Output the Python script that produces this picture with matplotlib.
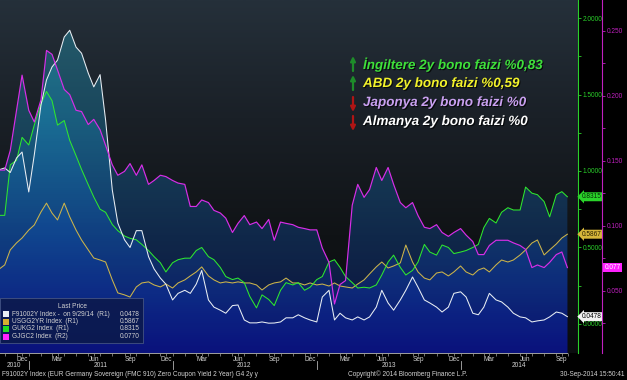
import numpy as np
import pandas as pd
import matplotlib
matplotlib.use('Agg')
import matplotlib.pyplot as plt
import matplotlib.dates as mdates
import matplotlib.patheffects as pe
from matplotlib.colors import LinearSegmentedColormap
from matplotlib.patches import Rectangle
from matplotlib.transforms import blended_transform_factory
from matplotlib.ticker import FixedLocator, FormatStrFormatter

plt.rcParams['font.family'] = ['Liberation Sans', 'DejaVu Sans']

# semi-monthly closes (1st / 15th), plus the last print on 9/29/14
dates = list(pd.date_range('2010-10-15', '2014-09-15', freq='SMS')) + [pd.Timestamp('2014-09-29')]

# F91002Y Index - German 2y (R1)
de2y = [1.006, 1.02, 0.99, 1.085, 1.124,
        0.863, 1.105, 1.431, 1.595, 1.68, 1.725, 1.876, 1.92, 1.81, 1.77, 1.64, 1.55,
        1.63, 1.333, 0.876, 0.66, 0.55, 0.50, 0.61, 0.61, 0.44, 0.36, 0.30, 0.26,
        0.157, 0.20, 0.22, 0.20, 0.26, 0.35, 0.157, 0.11, 0.09, 0.07, 0.12, 0.124,
        0.026, 0.007, 0.007, 0.013, 0.005, 0.006, 0.013, 0.04, 0.04, 0.06, 0.04, 0.026,
        0.013, 0.176, 0.22, 0.026, 0.07, 0.04, 0.026, 0.046, 0.026, 0.046, 0.11, 0.22,
        0.137, 0.09, 0.157, 0.22, 0.307, 0.24, 0.157, 0.137, 0.11, 0.078, 0.11, 0.20,
        0.21, 0.176, 0.07, 0.06, 0.11, 0.20, 0.157, 0.144, 0.11, 0.07, 0.046, 0.04,
        0.013, 0.02, 0.026, 0.046, 0.078, 0.07, 0.0478]
# USGG2YR Index - US 2y (R1)
us2y = [0.353, 0.386, 0.484, 0.53, 0.562,
        0.614, 0.647, 0.732, 0.79, 0.725, 0.68, 0.79, 0.70, 0.614, 0.549, 0.484, 0.431,
        0.418, 0.405, 0.288, 0.203, 0.19, 0.176, 0.242, 0.268, 0.275, 0.255, 0.242, 0.261,
        0.235, 0.268, 0.288, 0.314, 0.34, 0.373, 0.314, 0.288, 0.268, 0.275, 0.268, 0.275,
        0.268, 0.268, 0.255, 0.222, 0.255, 0.268, 0.275, 0.30, 0.268, 0.268, 0.255, 0.268,
        0.255, 0.261, 0.248, 0.268, 0.248, 0.242, 0.235, 0.261, 0.288, 0.327, 0.373, 0.405,
        0.366, 0.379, 0.399, 0.516, 0.405, 0.34, 0.30, 0.288, 0.333, 0.34, 0.314, 0.34,
        0.379, 0.34, 0.32, 0.353, 0.366, 0.34, 0.386, 0.418, 0.405, 0.418, 0.451, 0.484,
        0.529, 0.549, 0.451, 0.484, 0.523, 0.562, 0.5867]
# GUKG2 Index - UK 2y (R1)
uk2y = [0.71, 0.71, 1.04, 1.07, 1.22,
        1.17, 1.30, 1.44, 1.52, 1.46, 1.30, 1.33, 1.20, 1.10, 1.01, 0.91, 0.83,
        0.75, 0.73, 0.65, 0.61, 0.575, 0.56, 0.55, 0.52, 0.48, 0.44, 0.40, 0.34,
        0.40, 0.42, 0.43, 0.43, 0.48, 0.50, 0.44, 0.42, 0.37, 0.31, 0.29, 0.30,
        0.27, 0.18, 0.105, 0.19, 0.16, 0.12, 0.22, 0.27, 0.255, 0.27, 0.22, 0.24,
        0.29, 0.31, 0.405, 0.42, 0.37, 0.31, 0.27, 0.235, 0.24, 0.235, 0.255, 0.32,
        0.405, 0.45, 0.37, 0.32, 0.35, 0.405, 0.52, 0.47, 0.45, 0.516, 0.50, 0.46,
        0.47, 0.48, 0.50, 0.52, 0.63, 0.69, 0.66, 0.73, 0.76, 0.745, 0.745, 0.895,
        0.855, 0.845, 0.80, 0.70, 0.845, 0.865, 0.8315]
# GJGC2 Index - Japan 2y (R2)
jp2y = [0.143, 0.143, 0.158, 0.189, 0.216,
        0.189, 0.180, 0.197, 0.235, 0.232, 0.220, 0.205, 0.201, 0.189, 0.188, 0.178, 0.182,
        0.174, 0.162, 0.147, 0.139, 0.142, 0.148, 0.139, 0.147, 0.132, 0.135, 0.139, 0.138,
        0.135, 0.133, 0.132, 0.115, 0.115, 0.120, 0.118, 0.112, 0.110, 0.106, 0.095, 0.102,
        0.108, 0.101, 0.103, 0.098, 0.105, 0.089, 0.103, 0.102, 0.101, 0.099, 0.098, 0.097,
        0.097, 0.083, 0.072, 0.040, 0.055, 0.058, 0.116, 0.132, 0.122, 0.128, 0.145, 0.135,
        0.145, 0.132, 0.118, 0.114, 0.118, 0.108, 0.099, 0.098, 0.101, 0.095, 0.092, 0.095,
        0.098, 0.093, 0.088, 0.078, 0.078, 0.085, 0.089, 0.089, 0.089, 0.087, 0.085, 0.082,
        0.068, 0.070, 0.068, 0.072, 0.078, 0.080, 0.068]

legend_rows = ['F91002Y Index -  on 9/29/14  (R1)', 'USGG2YR Index  (R1)',
               'GUKG2 Index  (R1)', 'GJGC2 Index  (R2)']
legend_vals = ['0.0478', '0.5867', '0.8315', '0.0770']
notes = ['İngiltere 2y bono faizi %0,83', 'ABD 2y bono faizi %0,59',
         'Japonya 2y bono faizi %0', 'Almanya 2y bono faizi %0']
note_up = [True, True, False, False]
year_labels = ['2010', '2011', '2012', '2013', '2014']
year_centers = ['2010-11-25', '2011-07-02', '2012-07-01', '2013-07-02', '2014-05-29']
year_breaks = ['2011-01-01', '2012-01-01', '2013-01-01', '2014-01-01']

C_WHITE, C_US, C_UK, C_JP = '#e8eef4', '#cdb54a', '#2ee82e', '#d82ee8'
TXT = '#d2d2d2'
SMALL = 4.7

W, H = 627, 380
fig = plt.figure(figsize=(W / 100, H / 100), dpi=100, facecolor='black')
ax = fig.add_axes([0, 27 / H, 578 / W, 353 / H])
ax.set_facecolor('black')
ax2 = ax.twinx()

xlim = (pd.Timestamp('2010-10-20'), pd.Timestamp('2014-10-26'))
ax.set_xlim(*xlim)
ax.set_ylim(-0.19, 2.118)
ax2.set_ylim(0.0023, 0.2738)
x0, x1 = mdates.date2num(xlim[0]), mdates.date2num(xlim[1])
ylo, yhi = ax.get_ylim()

# plot background: dark slate at the top fading to black
bg_cmap = LinearSegmentedColormap.from_list('bg', ['#0a0c0e', '#101316', '#1a2027', '#25303a'])
grad = np.linspace(0, 1, 256).reshape(-1, 1)
ax.imshow(grad, cmap=bg_cmap, extent=[x0, x1, ylo, yhi], origin='lower',
          aspect='auto', zorder=0)

# bloomberg style gradient area under each series, layered
fill_cmap = LinearSegmentedColormap.from_list('fill', ['#0a1494', '#1250a8', '#1a8cbc', '#2cbad2'])
for vals, axis, base in [(de2y, ax, ylo), (us2y, ax, ylo), (uk2y, ax, ylo), (jp2y, ax2, 0.0)]:
    poly = axis.fill_between(dates, vals, base, facecolor='none', edgecolor='none')
    im = ax.imshow(grad, cmap=fill_cmap, extent=[x0, x1, ylo, yhi], origin='lower',
                   aspect='auto', alpha=0.36, zorder=1)
    im.set_clip_path(poly.get_paths()[0], transform=axis.transData)

ax.plot(dates, us2y, color=C_US, lw=0.75, zorder=3)
ax.plot(dates, uk2y, color=C_UK, lw=0.75, zorder=3)
ax.plot(dates, de2y, color=C_WHITE, lw=0.75, zorder=4)
ax2.plot(dates, jp2y, color=C_JP, lw=0.85)

ax.set_xlim(*xlim)
ax.set_ylim(ylo, yhi)
ax2.set_ylim(0.0023, 0.2738)

# x axis
for s in ['left', 'top']:
    ax.spines[s].set_visible(False)
    ax2.spines[s].set_visible(False)
ax2.spines['bottom'].set_visible(False)
ax.spines['bottom'].set_color('#a0a0a0')
ax.spines['bottom'].set_linewidth(0.7)
ax.spines['bottom'].set_bounds(x0, mdates.date2num(dates[-1]))
ax.xaxis.set_major_locator(mdates.MonthLocator(bymonth=[3, 6, 9, 12], bymonthday=15))
ax.xaxis.set_major_formatter(mdates.DateFormatter('%b'))
ax.xaxis.set_minor_locator(mdates.MonthLocator())
ax.tick_params(axis='x', which='both', colors='#a0a0a0', labelcolor=TXT,
               labelsize=SMALL, length=2, width=0.5, pad=0)

tr = blended_transform_factory(ax.transData, ax.transAxes)
for lab, c in zip(year_labels, year_centers):
    ax.text(pd.Timestamp(c), -0.034, lab, transform=tr, ha='center', va='center',
            fontsize=SMALL, color=TXT, clip_on=False)
for b in year_breaks:
    ax.plot([pd.Timestamp(b)] * 2, [-0.022, -0.046], transform=tr, color='#b0b0b0',
            lw=0.6, clip_on=False)

# right axes: R1 green, R2 magenta
ax.yaxis.tick_right()
ax.spines['right'].set_color('#2ad02a')
ax.spines['right'].set_linewidth(0.8)
ax.yaxis.set_major_locator(FixedLocator([0, 0.5, 1.0, 1.5, 2.0]))
ax.yaxis.set_minor_locator(FixedLocator([0.25, 0.75, 1.25, 1.75]))
ax.yaxis.set_major_formatter(FormatStrFormatter('%.4f'))
ax.tick_params(axis='y', which='both', colors='#2ad02a', labelcolor='#2ad02a',
               labelsize=SMALL, length=2.5, width=0.6, pad=1)

ax2.spines['right'].set_position(('axes', 602 / 578))
ax2.spines['right'].set_color('#c020c0')
ax2.spines['right'].set_linewidth(0.8)
ax2.yaxis.set_major_locator(FixedLocator([0.05, 0.10, 0.15, 0.20, 0.25]))
ax2.yaxis.set_minor_locator(FixedLocator([0.025, 0.075, 0.125, 0.175, 0.225]))
ax2.yaxis.set_major_formatter(FormatStrFormatter('%.3f'))
ax2.tick_params(axis='y', which='both', colors='#c020c0', labelcolor='#c020c0',
                labelsize=SMALL, length=2.5, width=0.6, pad=1)

# last value tags
tr1 = blended_transform_factory(ax.transAxes, ax.transData)
for v, fc, tc in [(uk2y[-1], '#2ad42a', '#062a06'), (us2y[-1], '#d6b63a', '#2a2000'),
                  (de2y[-1], '#f2f2f2', '#000000')]:
    ax.text(1.007, v, f'{v:.4f}', transform=tr1, fontsize=SMALL, color=tc, va='center',
            ha='left', clip_on=False, zorder=6,
            bbox=dict(boxstyle='larrow,pad=0.15', fc=fc, ec='none'))
tr2 = blended_transform_factory(ax2.transAxes, ax2.transData)
ax2.text(1.046, jp2y[-1], '0.077', transform=tr2, fontsize=SMALL, color='white', va='center',
         ha='left', clip_on=False, bbox=dict(boxstyle='square,pad=0.2', fc='#ff22ff', ec='none'))

# legend box (Bloomberg "Last Price")
def fx(x):
    return x / W

def fy(y):
    return 1 - y / H

fig.patches.append(Rectangle((fx(0), fy(343)), fx(143), 45 / H, transform=fig.transFigure,
                             fc='#0c1a4e', ec='#56648a', lw=0.5, alpha=0.92, zorder=5))
fig.text(fx(72), fy(306), 'Last Price', color=TXT, fontsize=SMALL, ha='center', va='center', zorder=6)
for i, (lab, val, c) in enumerate(zip(legend_rows, legend_vals, [C_WHITE, '#d8b030', '#22dd22', '#ff22ff'])):
    yy = 314 + i * 7.5
    fig.patches.append(Rectangle((fx(3), fy(yy + 3)), fx(6), 6 / H, transform=fig.transFigure,
                                 fc=c, ec='none', zorder=6))
    fig.text(fx(12), fy(yy), lab, color=TXT, fontsize=SMALL, va='center', zorder=6)
    fig.text(fx(140), fy(yy), val, color=TXT, fontsize=SMALL, va='center', ha='right', zorder=6)

# commentary with arrows
shadow = [pe.SimplePatchShadow(offset=(0.8, -0.8), shadow_rgbFace='black', alpha=0.7), pe.Normal()]
for i, (txt, up, c) in enumerate(zip(notes, note_up, ['#3ee03a', '#f2f22a', '#c9a0f0', '#ffffff'])):
    yc = 65 + i * 19
    fig.text(fx(363), fy(yc), txt, color=c, fontsize=9.7, fontweight='bold', style='italic',
             va='center', ha='left', zorder=7, path_effects=shadow)
    if up:
        tip, tail, ac = yc - 9, yc + 6, '#1e8c2a'
    else:
        tip, tail, ac = yc + 9, yc - 6, '#b01515'
    fig.add_artist(plt.Annotation('', xy=(fx(353), fy(tip)), xytext=(fx(353), fy(tail)),
                                  xycoords='figure fraction', textcoords='figure fraction',
                                  arrowprops=dict(arrowstyle='-|>', color=ac, lw=1.6,
                                                  mutation_scale=7, shrinkA=0, shrinkB=0)))

# footer
fig.text(fx(2), fy(374), 'F91002Y Index (EUR Germany Sovereign (FMC 910) Zero Coupon Yield 2 Year) G4 2y y',
         color=TXT, fontsize=SMALL, va='center')
fig.text(fx(348), fy(374), 'Copyright© 2014 Bloomberg Finance L.P.', color=TXT, fontsize=SMALL, va='center')
fig.text(fx(625), fy(374), '30-Sep-2014 15:50:41', color=TXT, fontsize=SMALL, va='center', ha='right')

fig.savefig('out.png', dpi=100, facecolor='black')
